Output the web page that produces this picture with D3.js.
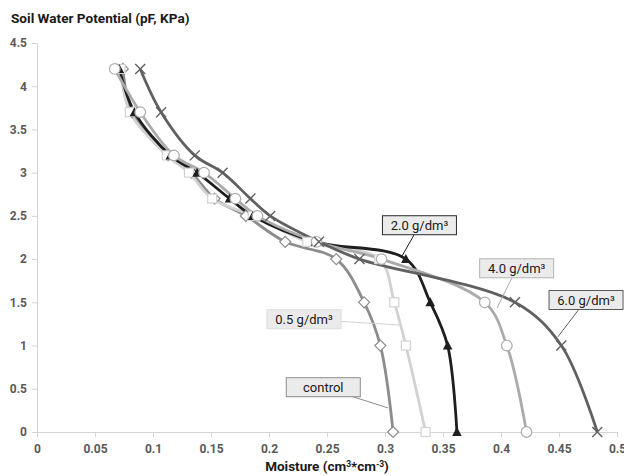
<!DOCTYPE html>
<html>
<head>
<meta charset="utf-8">
<script src="https://cdn.jsdelivr.net/npm/d3@7"></script>
<style>
  body { margin: 0; background: #fff; }
  svg { display: block; font-family: Roboto, "Liberation Sans", sans-serif; }
</style>
</head>
<body>
<svg id="chart"></svg>
<script>
// suction levels (pF), shared by every series
var pF = [4.2, 3.7, 3.2, 3.0, 2.7, 2.5, 2.2, 2.0, 1.5, 1.0, 0];

// moisture, one array per dose
var control = [0.074, 0.082, 0.113, 0.133, 0.153, 0.180, 0.214, 0.258, 0.282, 0.296, 0.307];
var dose05  = [0.072, 0.080, 0.112, 0.131, 0.151, 0.186, 0.233, 0.295, 0.308, 0.318, 0.335];
var dose20  = [0.071, 0.084, 0.115, 0.138, 0.166, 0.186, 0.240, 0.318, 0.339, 0.354, 0.362];
var dose40  = [0.067, 0.089, 0.118, 0.144, 0.171, 0.190, 0.241, 0.297, 0.386, 0.405, 0.422];
var dose60  = [0.089, 0.107, 0.136, 0.160, 0.184, 0.201, 0.243, 0.278, 0.412, 0.452, 0.483];

var seriesNames = ["control", "0.5 g/dm³", "2.0 g/dm³", "4.0 g/dm³", "6.0 g/dm³"];

var xTicks = [0, 0.05, 0.1, 0.15, 0.2, 0.25, 0.3, 0.35, 0.4, 0.45, 0.5];
var yTicks = [0, 0.5, 1, 1.5, 2, 2.5, 3, 3.5, 4, 4.5];

// data callouts: box centre and the point the leader goes to
var labelX   = [0.2468, 0.2302, 0.3297, 0.4135, 0.4733];
var labelY   = [0.518, 1.305, 2.392, 1.894, 1.527];
var leaderX  = [0.3026, 0.3123, 0.3144, 0.3966, 0.4491];
var leaderY  = [0.278, 1.238, 2.028, 1.435, 1.102];

var W = 624, H = 476;
var margin = {top: 43, right: 7, bottom: 44, left: 37};

var svg = d3.select("#chart").attr("width", W).attr("height", H);

var x = d3.scaleLinear().domain([0, 0.5]).range([margin.left, W - margin.right]);
var y = d3.scaleLinear().domain([0, 4.5]).range([H - margin.bottom, margin.top]);

var lineColor = ["#8c8c8c", "#d2d2d2", "#1e1e1e", "#ababab", "#606060"];
var boxStroke = ["#8c8c8c", "#dcdcdc", "#2a2a2a", "#b4b4b4", "#5a5a5a"];
var markers   = ["diamond", "square", "triangle", "circle", "cross"];

var allX = [control, dose05, dose20, dose40, dose60];
var series = allX.map(function(xs, i) {
  return {
    name: seriesNames[i],
    color: lineColor[i],
    marker: markers[i],
    points: xs.map(function(v, j) { return {x: v, y: pF[j]}; })
  };
});

// title
svg.append("text")
  .attr("x", 11).attr("y", 23)
  .style("font-size", "13.6px").style("font-weight", "bold").style("fill", "#1a1a1a")
  .text("Soil Water Potential (pF, KPa)");

// axes
var xAxis = d3.axisBottom(x).tickValues(xTicks).tickSize(5).tickSizeOuter(0).tickPadding(7)
  .tickFormat(function(d) { return String(d); });
var yAxis = d3.axisLeft(y).tickValues(yTicks).tickSize(5).tickSizeOuter(0).tickPadding(5)
  .tickFormat(function(d) { return String(d); });

var gx = svg.append("g").attr("transform", "translate(0," + (H - margin.bottom) + ")").call(xAxis);
var gy = svg.append("g").attr("transform", "translate(" + margin.left + ",0)").call(yAxis);

[gx, gy].forEach(function(g) {
  g.select(".domain").attr("stroke", "#d4d4d4");
  g.selectAll(".tick line").attr("stroke", "#d4d4d4");
  g.selectAll(".tick text")
    .style("font-family", "Roboto, sans-serif")
    .style("font-size", "12px").style("font-weight", "bold").style("fill", "#5a5a5a");
});

// x axis title
var xt = svg.append("text")
  .attr("x", 327).attr("y", 471)
  .attr("text-anchor", "middle")
  .style("font-size", "13.5px").style("font-weight", "bold").style("fill", "#1a1a1a");
xt.append("tspan").text("Moisture (cm");
xt.append("tspan").attr("dy", -4).style("font-size", "8.5px").text("3");
xt.append("tspan").attr("dy", 4).text("*cm");
xt.append("tspan").attr("dy", -4).style("font-size", "8.5px").text("-3");
xt.append("tspan").attr("dy", 4).text(")");

// lines
var line = d3.line()
  .x(function(d) { return x(d.x); })
  .y(function(d) { return y(d.y); })
  .curve(d3.curveCatmullRom.alpha(0.5));

svg.append("g").selectAll("path")
  .data(series)
  .enter().append("path")
    .attr("d", function(d) { return line(d.points); })
    .attr("fill", "none")
    .attr("stroke", function(d) { return d.color; })
    .attr("stroke-width", 2.8)
    .attr("stroke-linejoin", "round");

// markers
function drawMarker(g, kind, color) {
  if (kind === "circle") {
    g.append("circle").attr("r", 5.3).attr("fill", "#fff").attr("stroke", color).attr("stroke-width", 1.2);
  } else if (kind === "square") {
    g.append("rect").attr("x", -4.5).attr("y", -4.5).attr("width", 9).attr("height", 9)
      .attr("fill", "#fff").attr("stroke", color).attr("stroke-width", 1.2);
  } else if (kind === "diamond") {
    g.append("path").attr("d", "M0,-5.5L5.5,0L0,5.5L-5.5,0Z")
      .attr("fill", "#fff").attr("stroke", color).attr("stroke-width", 1.2);
  } else if (kind === "triangle") {
    g.append("path").attr("d", "M0,-5L4.8,4L-4.8,4Z").attr("fill", color);
  } else if (kind === "cross") {
    g.append("path").attr("d", "M-5,-5L5,5M-5,5L5,-5")
      .attr("stroke", color).attr("stroke-width", 1.4).attr("fill", "none");
  }
}

series.forEach(function(s) {
  var mg = svg.append("g");
  s.points.forEach(function(p) {
    var g = mg.append("g").attr("transform", "translate(" + x(p.x) + "," + y(p.y) + ")");
    drawMarker(g, s.marker, s.color);
  });
});

// callouts
var boxW = 74, boxH = 19;
var cg = svg.append("g");
seriesNames.forEach(function(name, i) {
  var cx = x(labelX[i]), cy = y(labelY[i]);
  cg.append("line")
    .attr("x1", cx).attr("y1", cy)
    .attr("x2", x(leaderX[i])).attr("y2", y(leaderY[i]))
    .attr("stroke", lineColor[i]).attr("stroke-width", 1);
  cg.append("rect")
    .attr("x", cx - boxW / 2).attr("y", cy - boxH / 2)
    .attr("width", boxW).attr("height", boxH)
    .attr("fill", "#ebebeb").attr("stroke", boxStroke[i]).attr("stroke-width", 1);
  cg.append("text")
    .attr("x", cx).attr("y", cy + 4.6)
    .attr("text-anchor", "middle")
    .style("font-size", "13px").style("fill", "#1a1a1a")
    .text(name);
});
</script>
</body>
</html>
